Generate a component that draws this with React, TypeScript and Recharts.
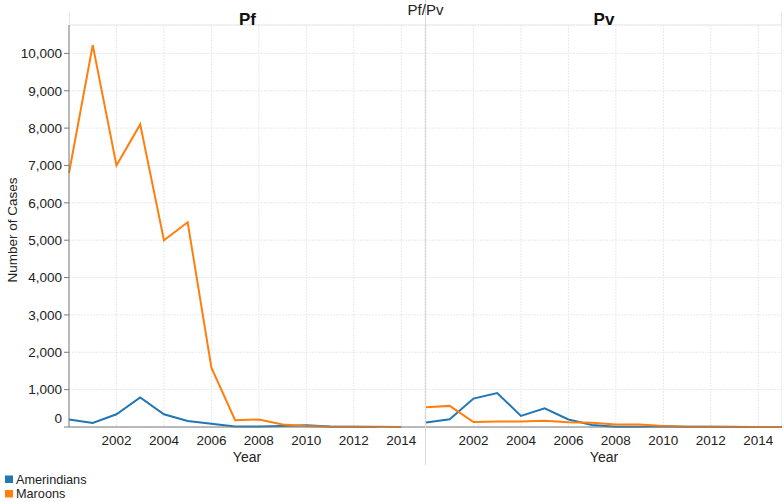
import React from 'react';
import { LineChart, Line, XAxis, YAxis, CartesianGrid, ReferenceLine } from 'recharts';

// ---- data ----
const years = [2000, 2001, 2002, 2003, 2004, 2005, 2006, 2007, 2008, 2009, 2010, 2011, 2012, 2013, 2014, 2015];
const pfAmerindians = [200, 110, 340, 790, 340, 160, 90, 15, 15, 30, 45, 15, 5, 0, null, null];
const pfMaroons = [6800, 10220, 7000, 8100, 5000, 5480, 1590, 180, 200, 65, 25, 10, 5, 5, 0, null];
const pvAmerindians = [120, 205, 760, 910, 295, 500, 200, 55, 10, 10, 20, 5, 5, 0, 0, 0];
const pvMaroons = [530, 565, 135, 150, 150, 170, 125, 115, 70, 70, 30, 10, 5, 5, 0, 0];

const yearTicks = [2002, 2004, 2006, 2008, 2010, 2012, 2014];
const caseTicks = [0, 1000, 2000, 3000, 4000, 5000, 6000, 7000, 8000, 9000, 10000];
const Y_MAX = 10760;

const BLUE = '#1f77b4';
const ORANGE = '#ff7f0e';
const FONT = '"Liberation Sans", Arial, sans-serif';
const GRID = '#e9e9e9';
const AXIS = '#7a7a7a';

const pfData = years.map((year, i) => ({ year, amer: pfAmerindians[i], maroon: pfMaroons[i] }));
const pvData = years.map((year, i) => ({ year, amer: pvAmerindians[i], maroon: pvMaroons[i] }));

// the "0" label sits a bit above the axis in the original
const CaseTick = ({ x, y, payload }: any) => (
  <text x={x} y={payload.value === 0 ? y - 9 : y} dy="0.355em" textAnchor="end"
        fontSize={13.5} fontFamily={FONT} fill="#222">
    {payload.value.toLocaleString('en-US')}
  </text>
);

const xAxisProps = {
  dataKey: 'year',
  type: 'number' as const,
  domain: [2000, 2015],
  ticks: yearTicks,
  tickLine: false,
  tickSize: 0,
  tickMargin: 8,
  height: 40,
  stroke: AXIS,
  tick: { fontSize: 13.5, fontFamily: FONT, fill: '#222' },
  label: { value: 'Year', position: 'insideBottom' as const, offset: 5, fontSize: 14, fontFamily: FONT, fill: '#222' },
};

export default function App() {
  return (
    <div style={{ position: 'absolute', left: 0, top: 0, width: 784, height: 502, background: '#fff', fontFamily: FONT }}>
      {/* Pf panel */}
      <div style={{ position: 'absolute', left: 0, top: 0 }}>
        <LineChart width={425} height={502} data={pfData} margin={{ top: 25, right: 0, left: 9, bottom: 35 }}>
          <CartesianGrid stroke={GRID} strokeDasharray="2 1" />
          <ReferenceLine y={Y_MAX} stroke={GRID} />
          <XAxis {...xAxisProps} />
          <YAxis domain={[0, Y_MAX]} ticks={caseTicks} width={60} stroke={AXIS}
                 tickSize={5} tickMargin={2} tick={<CaseTick />} />
          <Line dataKey="amer" stroke={BLUE} strokeWidth={2} dot={false} isAnimationActive={false} />
          <Line dataKey="maroon" stroke={ORANGE} strokeWidth={2} dot={false} isAnimationActive={false} />
        </LineChart>
      </div>

      {/* Pv panel */}
      <div style={{ position: 'absolute', left: 426, top: 0 }}>
        <LineChart width={356} height={502} data={pvData} margin={{ top: 25, right: 0, left: 0, bottom: 35 }}>
          <CartesianGrid stroke={GRID} strokeDasharray="2 1" />
          <ReferenceLine y={Y_MAX} stroke={GRID} />
          <ReferenceLine x={2015} stroke={GRID} />
          <XAxis {...xAxisProps} />
          <YAxis hide domain={[0, Y_MAX]} ticks={caseTicks} />
          <Line dataKey="amer" stroke={BLUE} strokeWidth={2} dot={false} isAnimationActive={false} />
          <Line dataKey="maroon" stroke={ORANGE} strokeWidth={2} dot={false} isAnimationActive={false} />
        </LineChart>
      </div>

      {/* titles, separators, axis title and legend */}
      <svg width={784} height={502} style={{ position: 'absolute', left: 0, top: 0, pointerEvents: 'none' }}>
        <line x1={425.5} y1={0} x2={425.5} y2={465} stroke="#d9d9d9" />
        <line x1={69.5} y1={13} x2={69.5} y2={25} stroke="#e6e6e6" />
        <line x1={781.5} y1={13} x2={781.5} y2={25} stroke="#e6e6e6" />
        <text x={425.5} y={15} textAnchor="middle" fontSize={15} fill="#222">Pf/Pv</text>
        <text x={247.5} y={25} textAnchor="middle" fontSize={17} fontWeight="bold" fill="#111">Pf</text>
        <text x={604} y={25} textAnchor="middle" fontSize={17} fontWeight="bold" fill="#111">Pv</text>
        <text transform="rotate(-90)" x={-230} y={17} textAnchor="middle" fontSize={13.5} fill="#222">Number of Cases</text>
        <rect x={5} y={475.5} width={8} height={7.5} fill={BLUE} />
        <text x={16} y={483.5} fontSize={12.7} fill="#222">Amerindians</text>
        <rect x={5} y={490} width={8} height={7.5} fill={ORANGE} />
        <text x={16} y={498} fontSize={12.7} fill="#222">Maroons</text>
      </svg>
    </div>
  );
}
